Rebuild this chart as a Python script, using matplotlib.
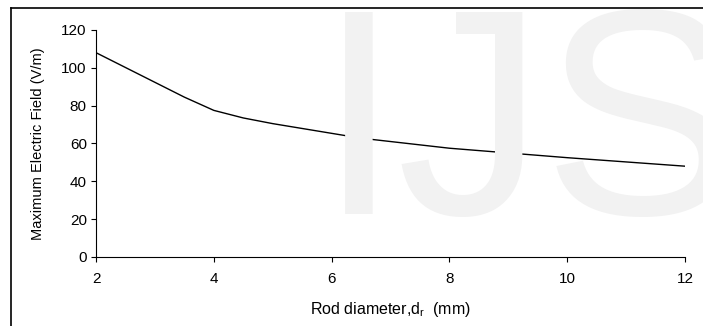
import matplotlib
matplotlib.use("Agg")
import matplotlib.pyplot as plt
from matplotlib.lines import Line2D

plt.rcParams['font.family'] = ['Liberation Sans', 'DejaVu Sans']
plt.rcParams['mathtext.fontset'] = 'custom'
plt.rcParams['mathtext.rm'] = 'Liberation Sans'

# rod diameter (mm) vs maximum electric field (V/m)
diameter = [2, 3.5, 4, 4.5, 5, 6.5, 8, 10, 12]
efield = [108, 84.5, 77.5, 73.5, 70.5, 62.8, 57.5, 52.5, 48]

xticks = [2, 4, 6, 8, 10, 12]
yticks = [0, 20, 40, 60, 80, 100, 120]

fig = plt.figure(figsize=(7.03, 3.26), dpi=100)

# watermark behind the chart, letters placed one by one
wm = dict(fontsize=212, color="#f2f2f2", family="Liberation Sans", zorder=0,
          va="baseline", ha="left")
fig.text(318 / 703, 1 - 214 / 326, "I", **wm)
fig.text(396 / 703, 1 - 214 / 326, "J", **wm)
fig.text(543 / 703, 1 - 214 / 326, "S", **wm)

ax = fig.add_axes([0.1366, 0.2117, 0.8378, 0.6963])
ax.patch.set_visible(False)
ax.plot(diameter, efield, color="black", lw=1.0)

ax.set_xlim(2, 12)
ax.set_ylim(0, 120)
ax.set_xticks(xticks)
ax.set_yticks(yticks)
ax.spines["top"].set_visible(False)
ax.spines["right"].set_visible(False)
ax.tick_params(direction="out", length=3.6, width=0.8, labelsize=11)
ax.tick_params(axis="x", pad=7)
ax.tick_params(axis="y", pad=3)
ax.set_xlabel(r"Rod diameter,d$_\mathrm{r}$  (mm)", fontsize=11.5, labelpad=10)
ax.set_ylabel("Maximum Electric Field (V/m)", fontsize=10.5, labelpad=12)

# page frame lines
fig.add_artist(Line2D([11 / 703, 11 / 703], [0, 1 - 8 / 326], color="black", lw=1.2))
fig.add_artist(Line2D([11 / 703, 1], [1 - 8 / 326, 1 - 8 / 326], color="black", lw=1.2))

fig.savefig("out.png", dpi=100)
